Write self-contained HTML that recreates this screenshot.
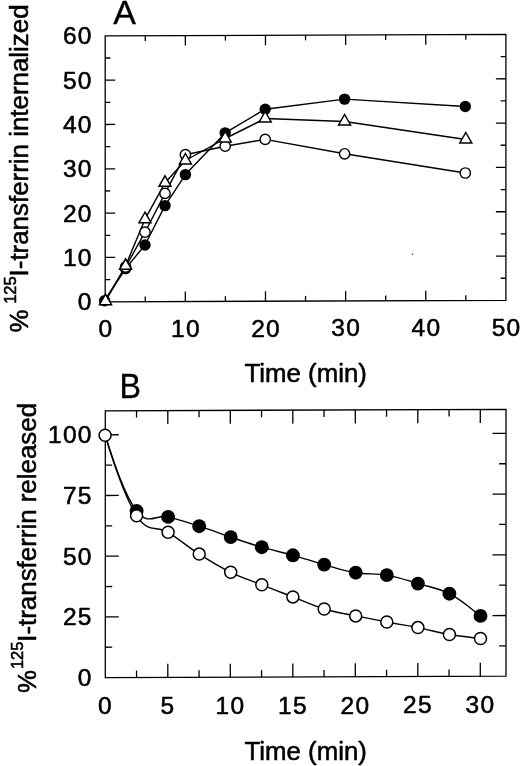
<!DOCTYPE html>
<html><head><meta charset="utf-8"><title>Figure</title>
<style>
html,body{margin:0;padding:0;background:#fff;}
body{width:520px;height:766px;overflow:hidden;font-family:"Liberation Sans",sans-serif;}
svg{display:block;filter:blur(0.3px);}
</style></head><body>
<svg width="520" height="766" viewBox="0 0 520 766">
<rect width="520" height="766" fill="#fff"/>
<g stroke="#000" fill="none" stroke-linecap="butt">
<path d="M105.20,35.84 L505.90,34.44 L505.90,300.39 L105.20,301.79 Z" stroke-width="1.3" stroke-linejoin="miter"/>
<line x1="145.27" y1="35.70" x2="145.27" y2="40.90" stroke-width="1.3"/>
<line x1="145.27" y1="301.65" x2="145.27" y2="296.45" stroke-width="1.3"/>
<line x1="185.34" y1="35.56" x2="185.34" y2="45.56" stroke-width="1.3"/>
<line x1="185.34" y1="301.51" x2="185.34" y2="291.51" stroke-width="1.3"/>
<line x1="225.41" y1="35.42" x2="225.41" y2="40.62" stroke-width="1.3"/>
<line x1="225.41" y1="301.37" x2="225.41" y2="296.17" stroke-width="1.3"/>
<line x1="265.48" y1="35.28" x2="265.48" y2="45.28" stroke-width="1.3"/>
<line x1="265.48" y1="301.23" x2="265.48" y2="291.23" stroke-width="1.3"/>
<line x1="305.55" y1="35.14" x2="305.55" y2="40.34" stroke-width="1.3"/>
<line x1="305.55" y1="301.09" x2="305.55" y2="295.89" stroke-width="1.3"/>
<line x1="345.62" y1="35.00" x2="345.62" y2="45.00" stroke-width="1.3"/>
<line x1="345.62" y1="300.95" x2="345.62" y2="290.95" stroke-width="1.3"/>
<line x1="385.69" y1="34.86" x2="385.69" y2="40.06" stroke-width="1.3"/>
<line x1="385.69" y1="300.81" x2="385.69" y2="295.61" stroke-width="1.3"/>
<line x1="425.76" y1="34.72" x2="425.76" y2="44.72" stroke-width="1.3"/>
<line x1="425.76" y1="300.67" x2="425.76" y2="290.67" stroke-width="1.3"/>
<line x1="465.83" y1="34.58" x2="465.83" y2="39.78" stroke-width="1.3"/>
<line x1="465.83" y1="300.53" x2="465.83" y2="295.33" stroke-width="1.3"/>
<line x1="105.20" y1="279.63" x2="110.40" y2="279.61" stroke-width="1.3"/>
<line x1="505.90" y1="278.23" x2="500.70" y2="278.25" stroke-width="1.3"/>
<line x1="105.20" y1="257.47" x2="115.20" y2="257.43" stroke-width="1.3"/>
<line x1="505.90" y1="256.06" x2="495.90" y2="256.10" stroke-width="1.3"/>
<line x1="105.20" y1="235.30" x2="110.40" y2="235.29" stroke-width="1.3"/>
<line x1="505.90" y1="233.90" x2="500.70" y2="233.92" stroke-width="1.3"/>
<line x1="105.20" y1="213.14" x2="115.20" y2="213.11" stroke-width="1.3"/>
<line x1="505.90" y1="211.74" x2="495.90" y2="211.77" stroke-width="1.3"/>
<line x1="105.20" y1="190.98" x2="110.40" y2="190.96" stroke-width="1.3"/>
<line x1="505.90" y1="189.58" x2="500.70" y2="189.60" stroke-width="1.3"/>
<line x1="105.20" y1="168.82" x2="115.20" y2="168.78" stroke-width="1.3"/>
<line x1="505.90" y1="167.41" x2="495.90" y2="167.45" stroke-width="1.3"/>
<line x1="105.20" y1="146.65" x2="110.40" y2="146.64" stroke-width="1.3"/>
<line x1="505.90" y1="145.25" x2="500.70" y2="145.27" stroke-width="1.3"/>
<line x1="105.20" y1="124.49" x2="115.20" y2="124.46" stroke-width="1.3"/>
<line x1="505.90" y1="123.09" x2="495.90" y2="123.12" stroke-width="1.3"/>
<line x1="105.20" y1="102.33" x2="110.40" y2="102.31" stroke-width="1.3"/>
<line x1="505.90" y1="100.93" x2="500.70" y2="100.95" stroke-width="1.3"/>
<line x1="105.20" y1="80.17" x2="115.20" y2="80.13" stroke-width="1.3"/>
<line x1="505.90" y1="78.76" x2="495.90" y2="78.80" stroke-width="1.3"/>
<line x1="105.20" y1="58.00" x2="110.40" y2="57.99" stroke-width="1.3"/>
<line x1="505.90" y1="56.60" x2="500.70" y2="56.62" stroke-width="1.3"/>
<path d="M105.30,410.79 L506.00,409.39 L506.00,676.19 L105.30,677.59 Z" stroke-width="1.3" stroke-linejoin="miter"/>
<line x1="136.55" y1="410.68" x2="136.55" y2="417.58" stroke-width="1.3"/>
<line x1="136.55" y1="677.48" x2="136.55" y2="670.58" stroke-width="1.3"/>
<line x1="167.80" y1="410.57" x2="167.80" y2="424.07" stroke-width="1.3"/>
<line x1="167.80" y1="677.37" x2="167.80" y2="663.87" stroke-width="1.3"/>
<line x1="199.05" y1="410.46" x2="199.05" y2="417.36" stroke-width="1.3"/>
<line x1="199.05" y1="677.26" x2="199.05" y2="670.36" stroke-width="1.3"/>
<line x1="230.30" y1="410.35" x2="230.30" y2="423.85" stroke-width="1.3"/>
<line x1="230.30" y1="677.15" x2="230.30" y2="663.65" stroke-width="1.3"/>
<line x1="261.55" y1="410.24" x2="261.55" y2="417.14" stroke-width="1.3"/>
<line x1="261.55" y1="677.04" x2="261.55" y2="670.14" stroke-width="1.3"/>
<line x1="292.80" y1="410.14" x2="292.80" y2="423.64" stroke-width="1.3"/>
<line x1="292.80" y1="676.94" x2="292.80" y2="663.44" stroke-width="1.3"/>
<line x1="324.05" y1="410.03" x2="324.05" y2="416.93" stroke-width="1.3"/>
<line x1="324.05" y1="676.83" x2="324.05" y2="669.93" stroke-width="1.3"/>
<line x1="355.30" y1="409.92" x2="355.30" y2="423.42" stroke-width="1.3"/>
<line x1="355.30" y1="676.72" x2="355.30" y2="663.22" stroke-width="1.3"/>
<line x1="386.55" y1="409.81" x2="386.55" y2="416.71" stroke-width="1.3"/>
<line x1="386.55" y1="676.61" x2="386.55" y2="669.71" stroke-width="1.3"/>
<line x1="417.80" y1="409.70" x2="417.80" y2="423.20" stroke-width="1.3"/>
<line x1="417.80" y1="676.50" x2="417.80" y2="663.00" stroke-width="1.3"/>
<line x1="449.05" y1="409.59" x2="449.05" y2="416.49" stroke-width="1.3"/>
<line x1="449.05" y1="676.39" x2="449.05" y2="669.49" stroke-width="1.3"/>
<line x1="480.30" y1="409.48" x2="480.30" y2="422.98" stroke-width="1.3"/>
<line x1="480.30" y1="676.28" x2="480.30" y2="662.78" stroke-width="1.3"/>
<line x1="105.30" y1="647.24" x2="112.20" y2="647.22" stroke-width="1.3"/>
<line x1="506.00" y1="645.84" x2="499.10" y2="645.86" stroke-width="1.3"/>
<line x1="105.30" y1="616.89" x2="118.80" y2="616.84" stroke-width="1.3"/>
<line x1="506.00" y1="615.49" x2="492.50" y2="615.54" stroke-width="1.3"/>
<line x1="105.30" y1="586.54" x2="112.20" y2="586.52" stroke-width="1.3"/>
<line x1="506.00" y1="585.14" x2="499.10" y2="585.16" stroke-width="1.3"/>
<line x1="105.30" y1="556.19" x2="118.80" y2="556.14" stroke-width="1.3"/>
<line x1="506.00" y1="554.79" x2="492.50" y2="554.84" stroke-width="1.3"/>
<line x1="105.30" y1="525.84" x2="112.20" y2="525.82" stroke-width="1.3"/>
<line x1="506.00" y1="524.44" x2="499.10" y2="524.46" stroke-width="1.3"/>
<line x1="105.30" y1="495.49" x2="118.80" y2="495.44" stroke-width="1.3"/>
<line x1="506.00" y1="494.09" x2="492.50" y2="494.14" stroke-width="1.3"/>
<line x1="105.30" y1="465.14" x2="112.20" y2="465.12" stroke-width="1.3"/>
<line x1="506.00" y1="463.74" x2="499.10" y2="463.76" stroke-width="1.3"/>
<line x1="105.30" y1="434.79" x2="118.80" y2="434.74" stroke-width="1.3"/>
<line x1="506.00" y1="433.39" x2="492.50" y2="433.44" stroke-width="1.3"/>
</g>
<g stroke="#000" fill="none" stroke-linejoin="round">
<path d="M104.6,300.8 L125.6,268.6 L145.0,245.0 L165.0,205.6 L185.4,174.6 L225.2,132.9 L265.2,109.2 L344.6,99.1 L465.3,106.5" stroke-width="1.4"/>
<path d="M104.5,301.2 L125.6,267.0 L145.0,232.2 L165.0,193.4 L185.4,154.7 L225.2,146.2 L265.2,139.4 L344.6,153.8 L465.3,173.0" stroke-width="1.4"/>
<path d="M105.5,301.2 L125.6,265.8 L145.0,219.2 L165.0,182.8 L185.4,160.5 L225.2,138.5 L265.2,118.5 L344.6,121.5 L465.8,139.5" stroke-width="1.4"/>
</g>
<circle cx="104.6" cy="300.8" r="5.7" fill="#000"/>
<circle cx="125.6" cy="268.6" r="5.7" fill="#000"/>
<circle cx="145" cy="245" r="5.7" fill="#000"/>
<circle cx="165" cy="205.6" r="5.7" fill="#000"/>
<circle cx="185.4" cy="174.6" r="5.7" fill="#000"/>
<circle cx="225.2" cy="132.9" r="5.7" fill="#000"/>
<circle cx="265.2" cy="109.2" r="5.7" fill="#000"/>
<circle cx="344.6" cy="99.1" r="5.7" fill="#000"/>
<circle cx="465.3" cy="106.5" r="5.7" fill="#000"/>
<circle cx="125.6" cy="267.0" r="5.15" fill="#fff" stroke="#000" stroke-width="1.4"/>
<circle cx="145" cy="232.2" r="5.15" fill="#fff" stroke="#000" stroke-width="1.4"/>
<circle cx="165" cy="193.4" r="5.15" fill="#fff" stroke="#000" stroke-width="1.4"/>
<circle cx="185.4" cy="154.7" r="5.15" fill="#fff" stroke="#000" stroke-width="1.4"/>
<circle cx="225.2" cy="146.2" r="5.15" fill="#fff" stroke="#000" stroke-width="1.4"/>
<circle cx="265.2" cy="139.4" r="5.15" fill="#fff" stroke="#000" stroke-width="1.4"/>
<circle cx="344.6" cy="153.8" r="5.15" fill="#fff" stroke="#000" stroke-width="1.4"/>
<circle cx="465.3" cy="173" r="5.15" fill="#fff" stroke="#000" stroke-width="1.4"/>
<path d="M105.5,294.2 L111.5,304.7 L99.5,304.7 Z" fill="#fff" stroke="#000" stroke-width="1.5" stroke-linejoin="miter"/>
<path d="M125.6,258.8 L131.6,269.3 L119.6,269.3 Z" fill="#fff" stroke="#000" stroke-width="1.5" stroke-linejoin="miter"/>
<path d="M145.0,212.2 L151.0,222.7 L139.0,222.7 Z" fill="#fff" stroke="#000" stroke-width="1.5" stroke-linejoin="miter"/>
<path d="M165.0,175.8 L171.0,186.3 L159.0,186.3 Z" fill="#fff" stroke="#000" stroke-width="1.5" stroke-linejoin="miter"/>
<path d="M185.4,153.5 L191.4,164.0 L179.4,164.0 Z" fill="#fff" stroke="#000" stroke-width="1.5" stroke-linejoin="miter"/>
<path d="M225.2,131.5 L231.2,142.0 L219.2,142.0 Z" fill="#fff" stroke="#000" stroke-width="1.5" stroke-linejoin="miter"/>
<path d="M265.2,111.5 L271.2,122.0 L259.2,122.0 Z" fill="#fff" stroke="#000" stroke-width="1.5" stroke-linejoin="miter"/>
<path d="M344.6,114.5 L350.6,125.0 L338.6,125.0 Z" fill="#fff" stroke="#000" stroke-width="1.5" stroke-linejoin="miter"/>
<path d="M465.8,132.5 L471.8,143.0 L459.8,143.0 Z" fill="#fff" stroke="#000" stroke-width="1.5" stroke-linejoin="miter"/>
<g stroke="#000" fill="none" stroke-linejoin="round">
<path d="M105.1,435.3 C113.6,461.7 124.4,495.1 136.6,510.9 C148.8,526.7 156.0,513.9 168.1,516.9 C180.2,519.9 187.1,522.3 199.2,526.2 C211.3,530.1 218.6,533.0 230.7,537.1 C242.8,541.2 249.8,543.7 261.8,547.2 C273.8,550.7 280.8,551.9 292.9,555.3 C305.0,558.7 312.1,561.2 324.2,564.6 C336.3,568.0 343.6,570.7 355.7,572.7 C367.8,574.7 374.8,573.0 386.8,575.1 C398.8,577.2 405.8,580.0 417.9,583.6 C430.0,587.2 437.3,587.5 449.4,593.7 C461.5,599.9 474.5,611.6 480.5,615.9" stroke-width="1.4"/>
<path d="M105.1,435.3 C113.4,462.5 124.4,496.9 136.6,515.7 C148.8,534.5 156.0,524.9 168.1,532.3 C180.2,539.7 187.1,546.4 199.2,554.1 C211.3,561.8 218.6,566.4 230.7,572.3 C242.8,578.2 249.8,580.0 261.8,584.8 C273.8,589.6 280.8,592.2 292.9,596.9 C305.0,601.6 312.1,605.3 324.2,609.0 C336.3,612.7 343.6,613.4 355.7,615.9 C367.8,618.4 374.8,619.7 386.8,622.0 C398.8,624.3 405.8,625.2 417.9,627.6 C430.0,630.0 437.3,632.4 449.4,634.5 C461.5,636.6 474.5,637.7 480.5,638.5" stroke-width="1.4"/>
</g>
<circle cx="136.6" cy="510.9" r="6.95" fill="#000"/>
<circle cx="168.1" cy="516.9" r="6.95" fill="#000"/>
<circle cx="199.2" cy="526.2" r="6.95" fill="#000"/>
<circle cx="230.7" cy="537.1" r="6.95" fill="#000"/>
<circle cx="261.8" cy="547.2" r="6.95" fill="#000"/>
<circle cx="292.9" cy="555.3" r="6.95" fill="#000"/>
<circle cx="324.2" cy="564.6" r="6.95" fill="#000"/>
<circle cx="355.7" cy="572.7" r="6.95" fill="#000"/>
<circle cx="386.8" cy="575.1" r="6.95" fill="#000"/>
<circle cx="417.9" cy="583.6" r="6.95" fill="#000"/>
<circle cx="449.4" cy="593.7" r="6.95" fill="#000"/>
<circle cx="480.5" cy="615.9" r="6.95" fill="#000"/>
<circle cx="105.1" cy="435.3" r="6.0" fill="#fff" stroke="#000" stroke-width="1.5"/>
<circle cx="136.6" cy="515.7" r="6.0" fill="#fff" stroke="#000" stroke-width="1.5"/>
<circle cx="168.1" cy="532.3" r="6.0" fill="#fff" stroke="#000" stroke-width="1.5"/>
<circle cx="199.2" cy="554.1" r="6.0" fill="#fff" stroke="#000" stroke-width="1.5"/>
<circle cx="230.7" cy="572.3" r="6.0" fill="#fff" stroke="#000" stroke-width="1.5"/>
<circle cx="261.8" cy="584.8" r="6.0" fill="#fff" stroke="#000" stroke-width="1.5"/>
<circle cx="292.9" cy="596.9" r="6.0" fill="#fff" stroke="#000" stroke-width="1.5"/>
<circle cx="324.2" cy="609.0" r="6.0" fill="#fff" stroke="#000" stroke-width="1.5"/>
<circle cx="355.7" cy="615.9" r="6.0" fill="#fff" stroke="#000" stroke-width="1.5"/>
<circle cx="386.8" cy="622.0" r="6.0" fill="#fff" stroke="#000" stroke-width="1.5"/>
<circle cx="417.9" cy="627.6" r="6.0" fill="#fff" stroke="#000" stroke-width="1.5"/>
<circle cx="449.4" cy="634.5" r="6.0" fill="#fff" stroke="#000" stroke-width="1.5"/>
<circle cx="480.5" cy="638.5" r="6.0" fill="#fff" stroke="#000" stroke-width="1.5"/>
<circle cx="412.6" cy="254.2" r="0.8" fill="#444"/>
<g font-family="'Liberation Sans', sans-serif" fill="#000" stroke="#000" stroke-width="0.55" stroke-linejoin="round">
<text x="92.6" y="310.2" font-size="24.5" text-anchor="end" letter-spacing="1.2">0</text>
<text x="92.6" y="265.9" font-size="24.5" text-anchor="end" letter-spacing="1.2">10</text>
<text x="92.6" y="221.5" font-size="24.5" text-anchor="end" letter-spacing="1.2">20</text>
<text x="92.6" y="177.2" font-size="24.5" text-anchor="end" letter-spacing="1.2">30</text>
<text x="92.6" y="132.9" font-size="24.5" text-anchor="end" letter-spacing="1.2">40</text>
<text x="92.6" y="88.6" font-size="24.5" text-anchor="end" letter-spacing="1.2">50</text>
<text x="92.6" y="44.2" font-size="24.5" text-anchor="end" letter-spacing="1.2">60</text>
<text x="105.8" y="337.0" font-size="24.5" text-anchor="middle" letter-spacing="1.2">0</text>
<text x="185.9" y="336.8" font-size="24.5" text-anchor="middle" letter-spacing="1.2">10</text>
<text x="266.1" y="336.5" font-size="24.5" text-anchor="middle" letter-spacing="1.2">20</text>
<text x="346.2" y="336.2" font-size="24.5" text-anchor="middle" letter-spacing="1.2">30</text>
<text x="426.4" y="335.9" font-size="24.5" text-anchor="middle" letter-spacing="1.2">40</text>
<text x="506.5" y="335.6" font-size="24.5" text-anchor="middle" letter-spacing="1.2">50</text>
<text x="305.7" y="381.6" font-size="25.8" text-anchor="middle" >Time (min)</text>
<text x="124.7" y="24.1" font-size="34.0" text-anchor="middle" stroke-width="0.35">A</text>
<text x="92.6" y="686.0" font-size="24.5" text-anchor="end" letter-spacing="1.2">0</text>
<text x="92.6" y="625.3" font-size="24.5" text-anchor="end" letter-spacing="1.2">25</text>
<text x="92.6" y="564.6" font-size="24.5" text-anchor="end" letter-spacing="1.2">50</text>
<text x="92.6" y="503.9" font-size="24.5" text-anchor="end" letter-spacing="1.2">75</text>
<text x="92.6" y="443.2" font-size="24.5" text-anchor="end" letter-spacing="1.2">100</text>
<text x="105.4" y="714.4" font-size="24.5" text-anchor="middle" letter-spacing="1.2">0</text>
<text x="167.9" y="714.2" font-size="24.5" text-anchor="middle" letter-spacing="1.2">5</text>
<text x="230.4" y="714.0" font-size="24.5" text-anchor="middle" letter-spacing="1.2">10</text>
<text x="292.9" y="713.8" font-size="24.5" text-anchor="middle" letter-spacing="1.2">15</text>
<text x="355.4" y="713.6" font-size="24.5" text-anchor="middle" letter-spacing="1.2">20</text>
<text x="417.9" y="713.3" font-size="24.5" text-anchor="middle" letter-spacing="1.2">25</text>
<text x="480.4" y="713.1" font-size="24.5" text-anchor="middle" letter-spacing="1.2">30</text>
<text x="305.7" y="760.2" font-size="25.8" text-anchor="middle" >Time (min)</text>
<text transform="translate(130.3,398.4) scale(0.93,1)" font-size="34.6" text-anchor="middle" stroke-width="0.35">B</text>
<g transform="translate(28.0,332.6) rotate(-90)">
<text x="0" y="0" font-size="25.9">%</text>
<text x="28.8" y="-12.5" font-size="16.5">125</text>
<text x="56.2" y="0" font-size="25.9">I-transferrin internalized</text>
</g>
<g transform="translate(35.7,693.1) rotate(-90)">
<text x="0" y="0" font-size="25.9">%</text>
<text x="24.0" y="-12.5" font-size="16.5">125</text>
<text x="51.3" y="0" font-size="25.9">I-transferrin released</text>
</g>
</g>
</svg>
</body></html>
